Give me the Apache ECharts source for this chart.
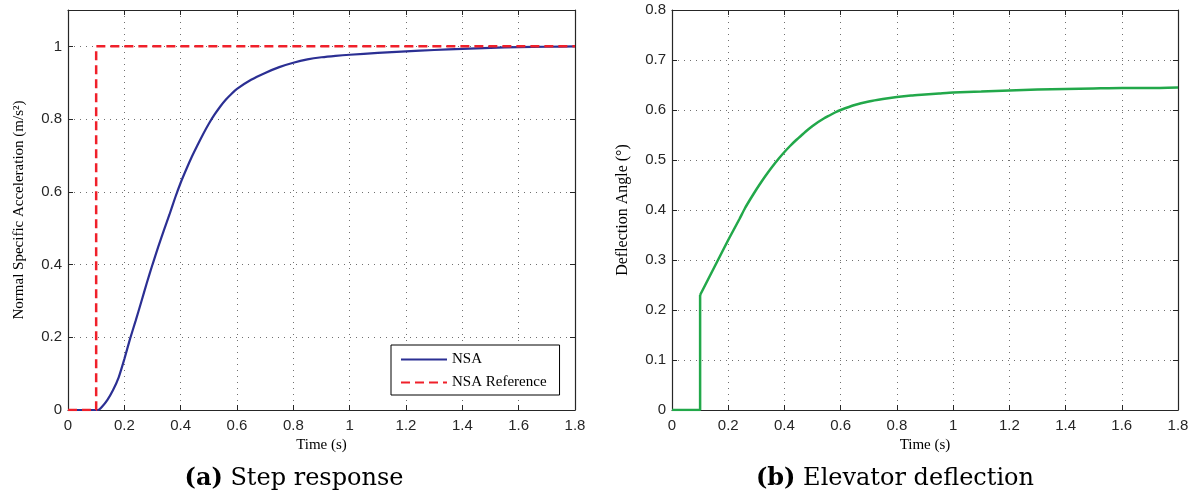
<!DOCTYPE html>
<html><head><meta charset="utf-8">
<script src="https://cdn.jsdelivr.net/npm/echarts@6/dist/echarts.min.js"></script>
<style>html,body{margin:0;padding:0;background:#fff}#c{width:1197px;height:496px}</style>
</head><body><div id="c"></div>
<script>
// ---- data ----
const nsaT = [0,0.10,0.11,0.12,0.14,0.16,0.18,0.20,0.22,0.24,0.26,0.28,0.30,0.32,0.34,0.36,0.38,0.40,0.42,0.44,0.46,0.48,0.50,0.52,0.54,0.56,0.58,0.60,0.65,0.70,0.75,0.80,0.85,0.90,0.95,1.00,1.10,1.20,1.30,1.40,1.50,1.60,1.70,1.80];
const nsaV = [0,0,0.001,0.008,0.028,0.055,0.09,0.14,0.195,0.245,0.297,0.35,0.40,0.448,0.493,0.537,0.583,0.625,0.662,0.697,0.729,0.759,0.787,0.812,0.834,0.853,0.869,0.883,0.908,0.927,0.943,0.955,0.964,0.970,0.974,0.977,0.982,0.986,0.990,0.993,0.996,0.998,0.999,1.0];
const refT = [0,0.1,0.1,1.8];
const refV = [0,0,1,1];
const jumpT = [0,0.1,0.1];
const jumpV = [0,0,0.23];
const defT = [0.1,0.12,0.14,0.16,0.18,0.20,0.22,0.24,0.26,0.28,0.30,0.32,0.34,0.36,0.38,0.40,0.42,0.44,0.46,0.48,0.50,0.52,0.54,0.56,0.58,0.60,0.65,0.70,0.75,0.80,0.85,0.90,0.95,1.00,1.10,1.20,1.30,1.40,1.50,1.60,1.70,1.80];
const defV = [0.23,0.252,0.274,0.296,0.318,0.34,0.361,0.382,0.404,0.423,0.441,0.458,0.474,0.489,0.503,0.516,0.528,0.539,0.549,0.559,0.568,0.576,0.583,0.589,0.595,0.600,0.610,0.617,0.622,0.626,0.629,0.631,0.633,0.635,0.637,0.639,0.641,0.642,0.643,0.644,0.644,0.645];
const xTitle = 'Time (s)';
const yTitleA = 'Normal Specific Acceleration (m/s²)';
const yTitleB = 'Deflection Angle (°)';
const captionA = ['(a)', 'Step response'];
const captionB = ['(b)', 'Elevator deflection'];
const legendNames = ['NSA', 'NSA Reference'];

const zip = (a, b) => a.map((v, i) => [v, b[i]]);
const axisCol = '#262626';
const labelFont = {fontFamily: 'Liberation Sans', fontSize: 15, color: axisCol};
const nameFont = (s) => ({fontFamily: 'Liberation Serif', fontSize: s, color: '#000'});
const split = {show: true, lineStyle: {color: '#707070', type: [1, 5], width: 1}};
const line = {show: true, onZero: false, lineStyle: {color: axisCol, width: 1.2}};
const tick = {show: true, inside: true, length: 5, lineStyle: {color: axisCol}};

function xAxes(gi) {
  return [
    {type: 'value', gridIndex: gi, min: 0, max: 1.8, interval: 0.2, position: 'bottom',
     axisLine: line, axisTick: tick,
     axisLabel: Object.assign({margin: 8}, labelFont),
     splitLine: split, name: xTitle, nameLocation: 'middle', nameGap: 23, nameTextStyle: nameFont(15)},
    {type: 'value', gridIndex: gi, min: 0, max: 1.8, interval: 0.2, position: 'top',
     axisLine: line, axisTick: tick, axisLabel: {show: false}, splitLine: {show: false}}
  ];
}
function yAxes(gi, max, interval, name, gap, showMax, fs) {
  return [
    {type: 'value', gridIndex: gi, min: 0, max: max, interval: interval, position: 'left',
     axisLine: line, axisTick: tick,
     axisLabel: Object.assign({margin: 6, showMaxLabel: showMax}, labelFont),
     splitLine: split, name: name, nameLocation: 'middle', nameGap: gap, nameTextStyle: nameFont(fs)},
    {type: 'value', gridIndex: gi, min: 0, max: max, interval: interval, position: 'right',
     axisLine: line, axisTick: tick, axisLabel: {show: false}, splitLine: {show: false}}
  ];
}

const chart = echarts.init(document.getElementById('c'), null, {renderer: 'canvas'});
chart.setOption({
  animation: false,
  backgroundColor: '#fff',
  grid: [
    {left: 68, right: 622, top: 10, bottom: 86},
    {left: 672, right: 19, top: 10, bottom: 86}
  ],
  xAxis: [...xAxes(0), ...xAxes(1)],
  yAxis: [...yAxes(0, 1.1, 0.2, yTitleA, 41, false, 15), ...yAxes(1, 0.8, 0.1, yTitleB, 41, true, 16)],
  legend: {
    left: 391, top: 345, orient: 'vertical', data: legendNames,
    itemWidth: 46, itemHeight: 14, itemGap: 8, padding: [7, 13, 5, 9],
    borderColor: '#000', borderWidth: 1, backgroundColor: '#fff',
    itemStyle: {opacity: 0},
    textStyle: {fontFamily: 'Liberation Serif', fontSize: 15, color: '#000'}
  },
  series: [
    {name: legendNames[0], type: 'line', xAxisIndex: 0, yAxisIndex: 0, data: zip(nsaT, nsaV),
     symbol: 'none', smooth: 0.2, lineStyle: {color: '#2b2f93', width: 2.2}, itemStyle: {color: '#2b2f93'}},
    {name: legendNames[1], type: 'line', xAxisIndex: 0, yAxisIndex: 0, data: zip(refT, refV),
     symbol: 'none', lineStyle: {color: '#f0202a', width: 2.5, type: [9, 5]}, itemStyle: {color: '#f0202a'}},
    {name: 'Deflection jump', type: 'line', xAxisIndex: 2, yAxisIndex: 2, data: zip(jumpT, jumpV),
     symbol: 'none', lineStyle: {color: '#22a84a', width: 2.5}, itemStyle: {color: '#22a84a'}},
    {name: 'Deflection', type: 'line', xAxisIndex: 2, yAxisIndex: 2, data: zip(defT, defV),
     symbol: 'none', smooth: 0.2, lineStyle: {color: '#22a84a', width: 2.5}, itemStyle: {color: '#22a84a'}}
  ],
  graphic: [
    {type: 'text', x: 294, y: 479, style: {text: '{b|' + captionA[0] + '} ' + captionA[1], align: 'center', verticalAlign: 'middle',
      font: '24px "DejaVu Serif"', fill: '#000', rich: {b: {fontWeight: 'bold', fontFamily: 'DejaVu Serif', fontSize: 24}}}},
    {type: 'text', x: 895, y: 479, style: {text: '{b|' + captionB[0] + '} ' + captionB[1], align: 'center', verticalAlign: 'middle',
      font: '24px "DejaVu Serif"', fill: '#000', rich: {b: {fontWeight: 'bold', fontFamily: 'DejaVu Serif', fontSize: 24}}}}
  ]
});
</script></body></html>
